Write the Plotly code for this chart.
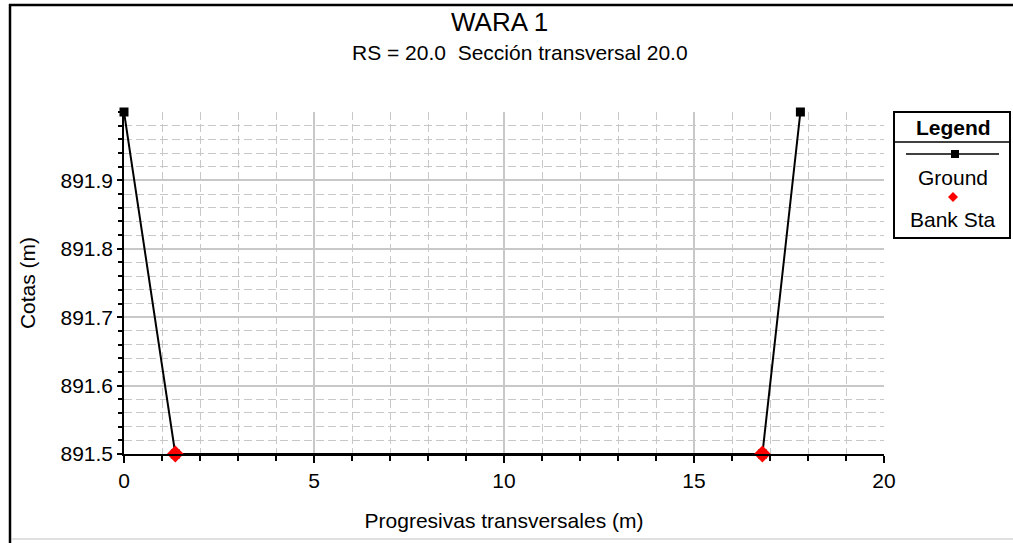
import plotly.graph_objects as go

# ---- data ----
station = [0.0, 1.35, 16.8, 17.8]
elevation = [892.0, 891.5, 891.5, 892.0]
bank_station = [1.35, 16.8]
bank_elevation = [891.5, 891.5]
x_ticks = [0, 5, 10, 15, 20]
y_ticks = [891.5, 891.6, 891.7, 891.8, 891.9]
y_tick_text = ["891.5", "891.6", "891.7", "891.8", "891.9"]

W, H = 1013, 543
L, R, T, B = 124, 884, 112, 454
FONT = "Liberation Sans, Arial, sans-serif"


def xp(px):
    return (px - L) / (R - L)


def yp(py):
    return (B - py) / (B - T)


fig = go.Figure()
fig.add_trace(go.Scatter(
    x=station, y=elevation, mode="lines+markers", name="Ground",
    line=dict(color="black", width=2),
    marker=dict(symbol="square", size=9, color="black"),
    cliponaxis=False, showlegend=False))
fig.add_trace(go.Scatter(
    x=bank_station, y=bank_elevation, mode="markers", name="Bank Sta",
    marker=dict(symbol="diamond", size=13, color="#ff0000"),
    cliponaxis=False, showlegend=False))

grid = "#c8c8c8"
minor_dash = "8px,4px"
fig.update_xaxes(
    range=[0, 20], tickvals=x_ticks, showgrid=True, gridcolor=grid, gridwidth=1.5,
    zeroline=False, showline=True, linecolor="black", linewidth=1.5,
    ticks="outside", ticklen=7, tickwidth=1.5, tickcolor="black",
    tickfont=dict(family=FONT, size=21, color="black"),
    minor=dict(dtick=1, showgrid=True, gridcolor=grid, griddash=minor_dash, gridwidth=1.2,
               ticks="outside", ticklen=5, tickwidth=1.5, tickcolor="black"),
    title=dict(text="Progresivas transversales (m)", standoff=22,
               font=dict(family=FONT, size=21, color="black")),
)
fig.update_yaxes(
    range=[891.5, 892.0], tickvals=y_ticks, ticktext=y_tick_text,
    showgrid=True, gridcolor=grid, gridwidth=1.5,
    zeroline=False, showline=True, linecolor="black", linewidth=1.5,
    ticks="outside", ticklen=5, tickwidth=1.5, tickcolor="black",
    tickfont=dict(family=FONT, size=21, color="black"),
    minor=dict(dtick=0.02, tick0=891.5, showgrid=True, gridcolor=grid, griddash=minor_dash,
               gridwidth=1.2, ticks="outside", ticklen=4, tickwidth=1.5, tickcolor="black"),
    title=dict(text="Cotas (m)", standoff=19,
               font=dict(family=FONT, size=21, color="black")),
)

shapes = []
# outer frame
shapes.append(dict(type="line", xref="paper", yref="paper", x0=xp(9), x1=xp(1013),
                   y0=yp(5), y1=yp(5), line=dict(color="black", width=2.5)))
shapes.append(dict(type="line", xref="paper", yref="paper", x0=xp(10), x1=xp(10),
                   y0=yp(4), y1=yp(543), line=dict(color="black", width=2.5)))
shapes.append(dict(type="line", xref="paper", yref="paper", x0=xp(12), x1=xp(1013),
                   y0=yp(539), y1=yp(539), line=dict(color="#e0e0e0", width=2)))
# legend box
shapes.append(dict(type="rect", xref="paper", yref="paper", x0=xp(894), x1=xp(1010),
                   y0=yp(112), y1=yp(238), line=dict(color="black", width=2),
                   fillcolor="white"))
shapes.append(dict(type="line", xref="paper", yref="paper", x0=xp(894), x1=xp(1010),
                   y0=yp(142), y1=yp(142), line=dict(color="black", width=1.5)))
shapes.append(dict(type="line", xref="paper", yref="paper", x0=xp(906), x1=xp(999),
                   y0=yp(154), y1=yp(154), line=dict(color="black", width=1.5)))
shapes.append(dict(type="rect", xref="paper", yref="paper", x0=xp(951), x1=xp(959),
                   y0=yp(150), y1=yp(158), line=dict(width=0), fillcolor="black"))
cx, cy, r = 953, 197, 5
shapes.append(dict(type="path", xref="paper", yref="paper",
                   path=f"M {xp(cx)} {yp(cy - r)} L {xp(cx + r)} {yp(cy)} L {xp(cx)} {yp(cy + r)} L {xp(cx - r)} {yp(cy)} Z",
                   line=dict(width=0), fillcolor="#ff0000"))

annotations = [
    dict(text="WARA 1", x=xp(499), y=yp(22), xref="paper", yref="paper",
         showarrow=False, xanchor="center", yanchor="middle",
         font=dict(family=FONT, size=26, color="black")),
    dict(text="RS = 20.0  Sección transversal 20.0", x=xp(520), y=yp(53),
         xref="paper", yref="paper", showarrow=False, xanchor="center", yanchor="middle",
         font=dict(family=FONT, size=21, color="black")),
    dict(text="<b>Legend</b>", x=xp(953), y=yp(127), xref="paper", yref="paper",
         showarrow=False, xanchor="center", yanchor="middle",
         font=dict(family=FONT, size=21, color="black")),
    dict(text="Ground", x=xp(953), y=yp(177), xref="paper", yref="paper",
         showarrow=False, xanchor="center", yanchor="middle",
         font=dict(family=FONT, size=21, color="black")),
    dict(text="Bank Sta", x=xp(953), y=yp(219), xref="paper", yref="paper",
         showarrow=False, xanchor="center", yanchor="middle",
         font=dict(family=FONT, size=21, color="black")),
]

fig.update_layout(
    width=W, height=H,
    margin=dict(l=L, r=W - R, t=T, b=H - B, pad=0),
    plot_bgcolor="white", paper_bgcolor="white",
    shapes=shapes, annotations=annotations, showlegend=False,
)

fig.write_html(
    "out.html", config={"displayModeBar": False},
    post_script=("document.documentElement.style.overflow='hidden';"
                 "document.body.style.overflow='hidden';"
                 "document.body.style.margin='0';"))
